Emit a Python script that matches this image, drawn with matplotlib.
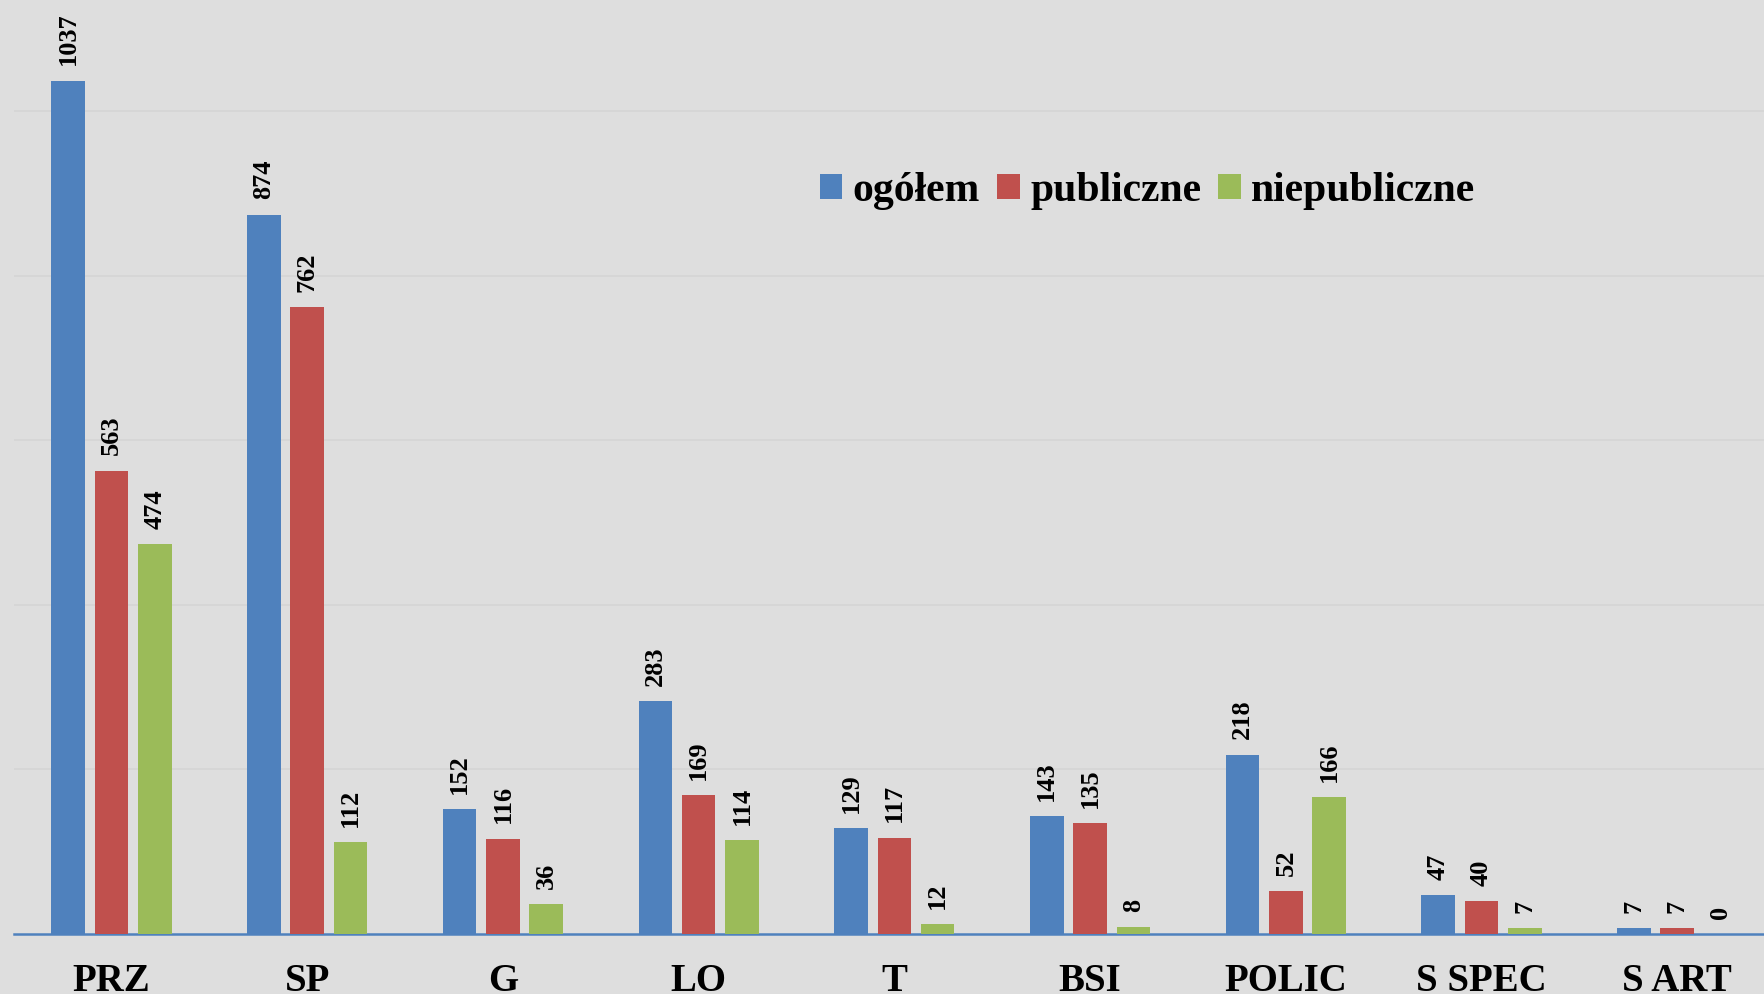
import matplotlib
matplotlib.use('Agg')
import matplotlib.pyplot as plt
import numpy as np

# data
categories = ['PRZ', 'SP', 'G', 'LO', 'T', 'BSI', 'POLIC', 'S SPEC', 'S ART']
ogolem = [1037, 874, 152, 283, 129, 143, 218, 47, 7]
publiczne = [563, 762, 116, 169, 117, 135, 52, 40, 7]
niepubliczne = [474, 112, 36, 114, 12, 8, 166, 7, 0]

series_names = ['ogółem', 'publiczne', 'niepubliczne']
colors = ['#4F81BD', '#C0504D', '#9BBB59']

plt.rcParams['font.family'] = ['Liberation Serif', 'DejaVu Serif']
plt.rcParams['font.weight'] = 'bold'

bg = '#dedede'
fig = plt.figure(figsize=(17.64, 9.94), dpi=100, facecolor=bg)
ax = fig.add_axes([0.0077, 0.0604, 0.9923, 0.9396])
ax.set_facecolor(bg)

index = np.arange(len(categories))
bar_width = 0.172
pitch = 0.221

for k, (name, vals, col) in enumerate(zip(series_names, [ogolem, publiczne, niepubliczne], colors)):
    xs = index + (k - 1) * pitch
    ax.bar(xs, vals, bar_width, color=col, label=name, zorder=3)
    # value labels, rotated
    for x, v in zip(xs, vals):
        ax.annotate(str(v), (x, v), xytext=(0, 11), textcoords='offset points',
                    rotation=90, ha='center', va='bottom', fontsize=19,
                    fontweight='bold', color='black')

ax.set_xlim(-0.5, 8.443)
ax.set_ylim(0, 1135)

# grid
ax.set_yticks([200, 400, 600, 800, 1000])
ax.yaxis.grid(True, color='#d5d5d5', linewidth=1.2, zorder=0)
ax.tick_params(axis='y', left=False, labelleft=False)

for s in ['top', 'right', 'left']:
    ax.spines[s].set_visible(False)
ax.spines['bottom'].set_color('#4F81BD')
ax.spines['bottom'].set_linewidth(1.8)

ax.set_xticks(index)
ax.set_xticklabels(categories, fontsize=28, fontweight='bold')
ax.tick_params(axis='x', length=0, pad=21)

leg = ax.legend(loc='center left', bbox_to_anchor=(0.439, 0.795), ncol=3,
                frameon=False, handlelength=0.55, handleheight=0.55,
                handletextpad=0.25, columnspacing=0.4,
                prop={'size': 30, 'weight': 'bold'})

plt.savefig('out.png', dpi=100, facecolor=bg)
print("done")
